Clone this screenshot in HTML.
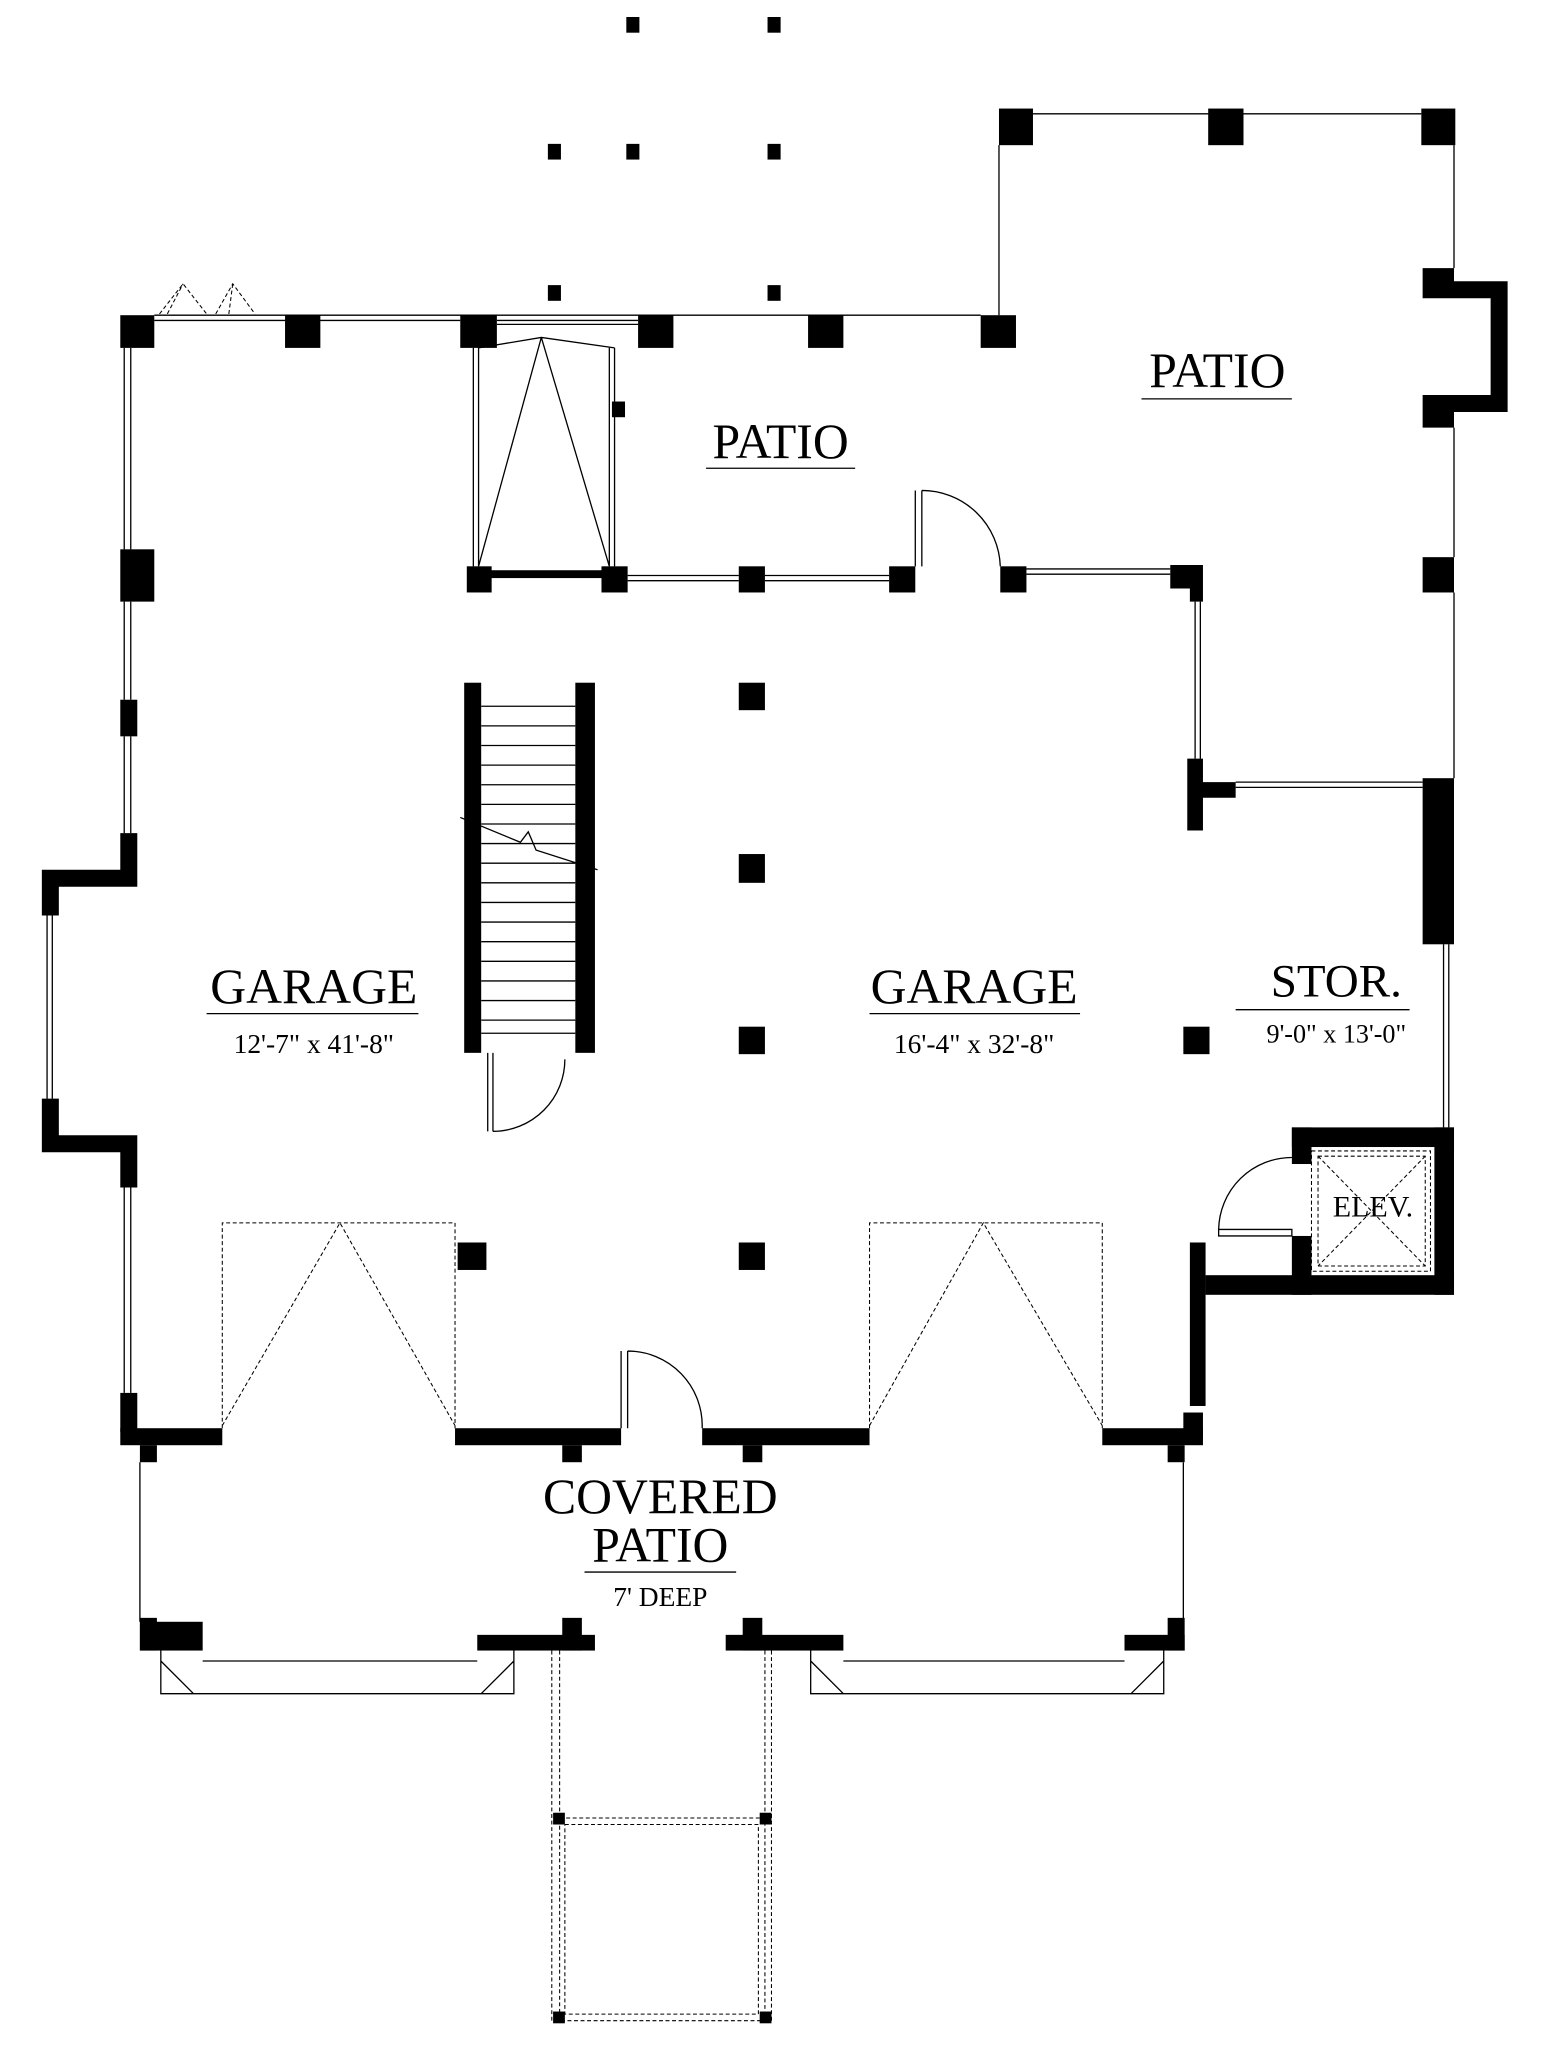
<!DOCTYPE html>
<html><head><meta charset="utf-8"><style>html,body{margin:0;padding:0;background:#fff}svg{display:block}</style></head><body>
<svg width="1556" height="2056" viewBox="0 0 1190 1572" preserveAspectRatio="none" xmlns="http://www.w3.org/2000/svg" font-family="Liberation Serif, serif">
<rect width="1190" height="1572" fill="#fff"/>
<g fill="#000">
<rect x="479" y="13" width="10" height="12"/><rect x="587" y="13" width="10" height="12"/>
<rect x="419" y="110" width="10" height="12"/><rect x="479" y="110" width="10" height="12"/><rect x="587" y="110" width="10" height="12"/>
<rect x="419" y="218" width="10" height="12"/><rect x="587" y="218" width="10" height="12"/>
<rect x="764" y="83" width="26" height="28"/><rect x="924" y="83" width="27" height="28"/><rect x="1087" y="83" width="26" height="28"/>
<path d="M1088 205h24v10h41v100h-41v12h-24v-25h52v-74h-52z"/>
<rect x="1088" y="426" width="24" height="27"/>
<rect x="92" y="241" width="26" height="25"/><rect x="218" y="241" width="27" height="25"/><rect x="352" y="241" width="28" height="25"/>
<rect x="488" y="241" width="27" height="25"/><rect x="618" y="241" width="27" height="25"/><rect x="750" y="241" width="27" height="25"/>
<rect x="468" y="307" width="10" height="12"/>
<rect x="357" y="433" width="19" height="20"/><rect x="370" y="436" width="95" height="6"/><rect x="460" y="433" width="20" height="20"/>
<rect x="565" y="433" width="20" height="20"/><rect x="680" y="433" width="20" height="20"/><rect x="765" y="433" width="20" height="20"/>
<path d="M895 432h25v28h-10v-10h-15z"/>
<rect x="92" y="420" width="26" height="40"/><rect x="92" y="535" width="13" height="28"/>
<path d="M92 637h13v41h-60v22h-13v-35h60z"/>
<path d="M32 840h13v28h60v40h-13v-27h-60z"/>
<rect x="92" y="1065" width="13" height="30"/>
<path d="M908 580h12v18h25v12h-25v25h-12z"/>
<rect x="1088" y="595" width="24" height="127"/>
<!-- elevator walls -->
<rect x="988" y="862" width="124" height="15"/>
<rect x="1097" y="862" width="15" height="128"/>
<rect x="922" y="975" width="190" height="15"/>
<rect x="988" y="862" width="15" height="28"/>
<rect x="988" y="945" width="15" height="45"/>
<rect x="910" y="950" width="12" height="125"/>
<rect x="905" y="1080" width="15" height="20"/>
<rect x="92" y="1092" width="78" height="13"/><rect x="348" y="1092" width="127" height="13"/>
<rect x="537" y="1092" width="128" height="13"/><rect x="843" y="1092" width="77" height="13"/>
<rect x="107" y="1105" width="13" height="13"/><rect x="430" y="1105" width="15" height="13"/>
<rect x="568" y="1105" width="15" height="13"/><rect x="893" y="1105" width="13" height="13"/>
<rect x="107" y="1240" width="48" height="22"/><rect x="107" y="1237" width="13" height="25"/>
<rect x="365" y="1250" width="90" height="12"/><rect x="430" y="1237" width="15" height="25"/>
<rect x="555" y="1250" width="90" height="12"/><rect x="568" y="1237" width="15" height="25"/>
<rect x="860" y="1250" width="46" height="12"/><rect x="893" y="1237" width="13" height="25"/>
<rect x="355" y="522" width="13" height="283"/><rect x="440" y="522" width="15" height="283"/>
<rect x="565" y="522" width="20" height="21"/><rect x="565" y="653" width="20" height="22"/><rect x="565" y="785" width="20" height="21"/>
<rect x="565" y="950" width="20" height="21"/><rect x="350" y="950" width="22" height="21"/><rect x="905" y="785" width="20" height="21"/>
<rect x="423" y="1386" width="9" height="9"/><rect x="581" y="1386" width="9" height="9"/>
<rect x="423" y="1538" width="9" height="9"/><rect x="581" y="1538" width="9" height="9"/>
</g>
<g fill="none" stroke="#000" stroke-width="1">
<path d="M790 87H1087M764 111V241M1112 111V205M1112 327V426M1112 453V595"/>
<path d="M118 241H750M118 245H352M380 245H488M380 248H488"/>
<path d="M362 266V433M366 266V433M466 266V433M470 266V433M366 266L414 258L470 266M414 258L366 433M414 258L466 433"/>
<path d="M100 266V420M95 266V420M100 460V535M95 460V535M100 563V637M95 563V637M36 700V840M40 700V840M95 908V1065M100 908V1065"/>
<path d="M480 440H565M480 444H565M585 440H680M585 444H680M705 433V375M700 433V375M705 375A60 60 0 0 1 765 433"/>
<path d="M785 435H895M785 439H895M914 460V580M918 460V580M945 598H1088M945 602H1088M1104 722V862M1108 722V862"/>
<path d="M932 940H988V945H932ZM932 940A56 56 0 0 1 988 885"/>
<path d="M368 540H440M368 555H440M368 570H440M368 585H440M368 600H440M368 615H440M368 630H440M368 645H440M368 660H440M368 675H440M368 690H440M368 705H440M368 720H440M368 735H440M368 750H440M368 765H440M368 780H440M368 790H440"/>
<path d="M352 625L398 644L404 636L410 650L457 665"/>
<path d="M373 805V865M377 805V865M377 865A55 55 0 0 0 432 810"/>
<path d="M475 1092V1033M480 1092V1033M480 1033A57 57 0 0 1 537 1092"/>
<path d="M107 1118V1240M905 1118V1240"/>
<path d="M123 1262V1295H393V1262M123 1270L148 1295M393 1270L368 1295M155 1270H365"/>
<path d="M620 1262V1295H890V1262M620 1270L645 1295M890 1270L865 1295M645 1270H860"/>
</g>
<g fill="none" stroke="#000" stroke-width="0.8" stroke-dasharray="3,2">
<path d="M170 1092V935H348V1092M170 1090L260 935L348 1090"/>
<path d="M665 1092V935H843V1092M665 1090L752 935L843 1090"/>
<path d="M1003 880H1094V972H1003ZM1008 884H1090V968H1008ZM1008 884L1090 968M1090 884L1008 968"/>
<path d="M422 1262V1545M428 1262V1390M585 1262V1390M590 1262V1545M428 1390H585V1545H428ZM432 1395H580V1540H432Z"/>
<path d="M122 240L140 217L158 240M128 240L140 217M165 240L178 217L195 240M175 240L178 217"/>
</g>
<g fill="#000" text-anchor="middle">
<text x="931" y="296" font-size="38">PATIO</text>
<text x="597" y="350" font-size="38">PATIO</text>
<text x="240" y="767" font-size="38">GARAGE</text>
<text x="240" y="805" font-size="21">12'-7" x 41'-8"</text>
<text x="745" y="767" font-size="38">GARAGE</text>
<text x="745" y="805" font-size="21">16'-4" x 32'-8"</text>
<text x="1022" y="762" font-size="36">STOR.</text>
<text x="1022" y="797" font-size="20">9'-0" x 13'-0"</text>
<text x="1050" y="930" font-size="23">ELEV.</text>
<text x="505" y="1157" font-size="38">COVERED</text>
<text x="505" y="1194" font-size="38">PATIO</text>
<text x="505" y="1228" font-size="21">7' DEEP</text>
</g>
<g stroke="#000" stroke-width="1">
<path d="M873 305H988M540 358H654M158 775H320M665 775H826M945 772H1078M447 1202H563"/>
</g>
</svg>
</body></html>
